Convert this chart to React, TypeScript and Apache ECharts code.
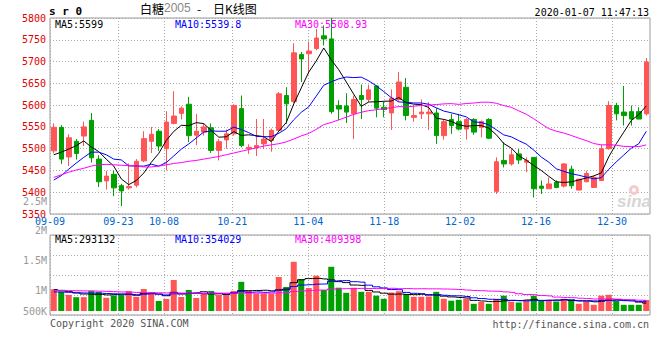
import React, { useEffect, useRef } from "react";
import * as echarts from "echarts";

// ---------- data ----------
const dates = [
  "09-09","09-10","09-11","09-12","09-16","09-17","09-18","09-19","09-20","09-23","09-24","09-25","09-26","09-27","09-30",
  "10-08","10-09","10-10","10-11","10-14","10-15","10-16","10-17","10-18","10-21","10-22","10-23","10-24","10-25","10-28","10-29","10-30","10-31",
  "11-01","11-04","11-05","11-06","11-07","11-08","11-11","11-12","11-13","11-14","11-15","11-18","11-19","11-20","11-21","11-22","11-25","11-26","11-27","11-28","11-29",
  "12-02","12-03","12-04","12-05","12-06","12-09","12-10","12-11","12-12","12-13","12-16","12-17","12-18","12-19","12-20","12-23","12-24","12-25","12-26","12-27","12-30","12-31",
  "01-02","01-03","01-06","01-07",
];

const opens = [
  5495,5549,5481,5517,5529,5565,5476,5426,5441,5415,5410,5416,5472,5517,5540,5500,5558,5581,5602,5531,
  5538,5548,5496,5520,5534,5592,5500,5502,5511,5519,5542,5622,5608,5716,5718,5730,5759,5752,5599,5598,
  5580,5622,5613,5644,5595,5582,5613,5641,5572,5580,5580,5582,5530,5567,5562,5545,5567,5549,5567,5402,
  5473,5465,5488,5469,5480,5414,5408,5423,5414,5453,5405,5424,5411,5427,5500,5599,5584,5585,5585,5580,
];
const closes = [
  5549,5476,5525,5489,5550,5479,5424,5437,5410,5403,5413,5471,5523,5533,5506,5561,5575,5593,5530,5540,
  5550,5496,5516,5534,5599,5507,5503,5507,5522,5542,5626,5603,5720,5706,5724,5754,5752,5585,5591,5584,
  5613,5613,5635,5593,5590,5616,5653,5576,5576,5584,5584,5530,5562,5553,5545,5567,5538,5562,5524,5470,
  5465,5486,5474,5473,5408,5409,5419,5411,5465,5415,5430,5443,5434,5500,5599,5580,5576,5568,5568,5699,
];
const lows = [
  5489,5465,5460,5475,5506,5468,5412,5406,5391,5368,5406,5411,5469,5490,5495,5450,5556,5567,5515,5508,
  5530,5490,5473,5500,5530,5503,5488,5483,5500,5493,5538,5557,5605,5653,5672,5726,5737,5580,5565,5559,
  5522,5568,5607,5572,5572,5543,5608,5565,5562,5568,5543,5511,5521,5534,5542,5521,5532,5526,5522,5396,
  5457,5461,5465,5446,5388,5396,5408,5409,5411,5408,5404,5423,5411,5427,5498,5565,5553,5553,5568,5576,
];
const highs = [
  5558,5554,5533,5522,5562,5582,5485,5449,5450,5419,5466,5476,5540,5550,5545,5586,5632,5597,5619,5580,
  5558,5558,5522,5544,5602,5622,5510,5568,5568,5546,5630,5641,5742,5722,5746,5775,5783,5800,5611,5627,
  5622,5647,5647,5645,5608,5636,5676,5662,5599,5613,5607,5593,5568,5580,5580,5570,5570,5565,5570,5480,
  5515,5499,5499,5480,5480,5427,5434,5427,5467,5461,5430,5449,5438,5509,5609,5605,5644,5599,5595,5708,
];
const volumes = [
  831000,747000,620000,529000,529000,777000,735000,506000,594000,613000,766000,544000,843000,697000,383000,460000,1187000,536000,804000,498000,
  659000,766000,624000,624000,766000,1118000,766000,659000,659000,659000,1302000,919000,1884000,1218000,881000,1352000,804000,1693000,892000,697000,
  889000,735000,735000,586000,467000,709000,758000,651000,544000,544000,555000,735000,467000,394000,429000,471000,276000,345000,276000,467000,
  586000,356000,326000,383000,586000,383000,383000,364000,467000,429000,276000,356000,237000,586000,620000,383000,237000,237000,237000,421000,
];

// moving-average values at the left edge (their windows begin before the first visible day)
const priceMa5Head = [5486, 5492, 5499, 5507];
const priceMa10Head = [5428, 5438, 5453, 5467, 5480, 5492, 5492, 5486, 5476];
const priceMa30Head = [
  5434,5440,5446,5451,5455,5460,5463,5464,5463,5462,5461,5460,5458,5458,5460,
  5463,5466,5468,5471,5473,5476,5479,5482,5486,5490,5494,5498,5502,5506,
];
const volMa5Head = [820000, 790000, 740000, 690000];
const volMa10Head = [730000, 725000, 715000, 700000, 690000, 685000, 680000, 670000, 660000];
const volMa30Head = [
  790000,785000,780000,775000,770000,765000,760000,750000,740000,730000,720000,712000,705000,700000,695000,
  690000,690000,688000,686000,685000,684000,684000,683000,683000,683000,683000,683000,683000,683000,
];

const labelDates = ["09-09", "09-23", "10-08", "10-21", "11-04", "11-18", "12-02", "12-16", "12-30"];
const priceMaLabels = ["MA5:5599", "MA10:5539.8", "MA30:5508.93"];
const volMaLabels = ["MA5:293132", "MA10:354029", "MA30:409398"];
const volumeAxisLabels = ["2.5M", "2M", "1.5M", "1M", "500K"];
const titleParts = ["白糖", "2005", "-", "日K线图"];
const symbolText = "s r 0";
const timeText = "2020-01-07 11:47:13";
const copyrightText = "Copyright 2020 SINA.COM";
const urlText = "http://finance.sina.com.cn";

// ---------- helpers ----------
function movingAverage(values: number[], n: number, head: number[]): number[] {
  return values.map((_, i) => {
    if (i < n - 1) return head[i];
    let s = 0;
    for (let k = i - n + 1; k <= i; k++) s += values[k];
    return Math.round((s / n) * 100) / 100;
  });
}

const RED = "#FF5555";
const GREEN = "#00A000";
const MONO = "DejaVu Sans Mono";
const GRID_LINE = { color: "#aaaaaa", type: [1, 2] as any, width: 1 };

export default function App() {
  const ref = useRef<HTMLDivElement>(null);

  useEffect(() => {
    if (!ref.current) return;
    const chart = echarts.init(ref.current, undefined, { renderer: "svg" });

    const labelIdx = labelDates.map((d) => dates.indexOf(d));
    const showIdx = (i: number) => labelIdx.indexOf(i) >= 0;

    const kData = dates.map((_, i) => [opens[i], closes[i], lows[i], highs[i]]);
    const volData = volumes.map((v, i) => ({
      value: v,
      itemStyle: { color: closes[i] >= opens[i] ? RED : GREEN },
    }));

    const pxPerVol = 38300; // volume per pixel in the lower pane
    const volMin = -4 * pxPerVol;
    const volMax = 76 * pxPerVol;

    const maColors = ["#000000", "#0000FF", "#FF00FF"];
    const priceMas = [
      movingAverage(closes, 5, priceMa5Head),
      movingAverage(closes, 10, priceMa10Head),
      movingAverage(closes, 30, priceMa30Head),
    ];
    const volMas = [
      movingAverage(volumes, 5, volMa5Head),
      movingAverage(volumes, 10, volMa10Head),
      movingAverage(volumes, 30, volMa30Head),
    ];

    const maLabelX = [55, 175, 295];
    const volLabelY = [201, 230, 260, 290, 311];

    const txt = (
      text: string,
      x: number,
      y: number,
      fill: string,
      extra: any = {}
    ) => ({
      type: "text",
      x,
      y,
      silent: true,
      z: 100,
      style: {
        text,
        fill,
        fontFamily: MONO,
        fontSize: 10,
        lineHeight: 9,
        verticalAlign: "middle",
        align: "left",
        ...extra,
      },
    });

    const graphics: any[] = [
      txt(symbolText, 49, 11, "#000", { fontSize: 11, fontWeight: "bold", lineHeight: 11 }),
      txt(titleParts[0], 140, 8, "#000", { fontFamily: "Noto Sans CJK SC", fontSize: 12, lineHeight: 12 }),
      txt(titleParts[1], 164, 8, "#888", { fontFamily: "Liberation Sans", fontSize: 12, lineHeight: 12 }),
      txt(titleParts[2], 197, 8, "#000", { fontFamily: "Noto Sans CJK SC", fontSize: 12, lineHeight: 12 }),
      txt(titleParts[3], 213, 8, "#000", { fontFamily: "Noto Sans CJK SC", fontSize: 12, lineHeight: 12 }),
      txt(timeText, 649, 12, "#000", { align: "right" }),
      ...priceMaLabels.map((t, k) => txt(t, maLabelX[k], 24, maColors[k])),
      ...volMaLabels.map((t, k) => txt(t, maLabelX[k], 239, maColors[k])),
      ...volumeAxisLabels.map((t, k) => txt(t, 47, volLabelY[k], "#999", { align: "right" })),
      txt(copyrightText, 50, 323, "#555"),
      txt(urlText, 649, 324, "#555", { align: "right" }),
      {
        type: "ring",
        silent: true,
        z: 1,
        shape: { cx: 634, cy: 190, r: 5, r0: 2 },
        style: { fill: "#f4caca" },
      },
      txt("sina", 617, 201, "#d6d6d6", {
        fontFamily: "Liberation Sans",
        fontSize: 17,
        lineHeight: 17,
        fontStyle: "italic",
        fontWeight: "bold",
      }),
    ];

    const option: any = {
      animation: false,
      backgroundColor: "#ffffff",
      grid: [
        { left: 50, right: 10, top: 18, height: 196, show: true, borderColor: "#999", borderWidth: 1 },
        { left: 50, right: 10, top: 235, height: 80, show: true, borderColor: "#999", borderWidth: 1 },
      ],
      xAxis: [
        { type: "category", gridIndex: 0, data: dates, boundaryGap: true, show: false },
        {
          type: "category",
          gridIndex: 0,
          data: dates,
          boundaryGap: false,
          position: "bottom",
          axisLine: { show: false },
          axisTick: { show: false },
          axisLabel: {
            interval: (i: number) => showIdx(i),
            color: "#0066CC",
            fontFamily: MONO,
            fontSize: 10,
            lineHeight: 9,
            margin: 3,
          },
          splitLine: { show: true, interval: (i: number) => showIdx(i), lineStyle: GRID_LINE },
        },
        { type: "category", gridIndex: 1, data: dates, boundaryGap: true, show: false },
        {
          type: "category",
          gridIndex: 1,
          data: dates,
          boundaryGap: false,
          position: "bottom",
          axisLine: { show: false },
          axisTick: { show: false },
          axisLabel: { show: false, interval: (i: number) => showIdx(i) },
          splitLine: { show: true, interval: (i: number) => showIdx(i), lineStyle: GRID_LINE },
        },
      ],
      yAxis: [
        {
          type: "value",
          gridIndex: 0,
          min: 5350,
          max: 5800,
          interval: 50,
          axisLine: { show: false },
          axisTick: { show: false },
          axisLabel: {
            color: "#E00000",
            fontFamily: MONO,
            fontSize: 10,
            lineHeight: 9,
            margin: 4,
            formatter: (v: number) => String(v),
          },
          splitLine: { show: true, lineStyle: GRID_LINE },
        },
        { type: "value", gridIndex: 1, min: volMin, max: volMax, show: false },
        {
          type: "value",
          gridIndex: 1,
          min: 0,
          max: 4,
          interval: 1,
          position: "left",
          axisLine: { show: false },
          axisTick: { show: false },
          axisLabel: { show: false },
          splitLine: { show: true, lineStyle: GRID_LINE },
        },
      ],
      series: [
        {
          type: "candlestick",
          xAxisIndex: 0,
          yAxisIndex: 0,
          data: kData,
          barWidth: 5,
          itemStyle: {
            color: RED,
            color0: GREEN,
            borderColor: RED,
            borderColor0: GREEN,
            borderWidth: 1,
          },
        },
        ...priceMas.map((d, k) => ({
          type: "line",
          xAxisIndex: 0,
          yAxisIndex: 0,
          data: d,
          symbol: "none",
          showSymbol: false,
          lineStyle: { color: maColors[k], width: 1 },
          z: 5,
        })),
        {
          type: "bar",
          xAxisIndex: 2,
          yAxisIndex: 1,
          data: volData,
          barWidth: 6,
        },
        ...volMas.map((d, k) => ({
          type: "line",
          xAxisIndex: 2,
          yAxisIndex: 1,
          data: d,
          step: "middle",
          symbol: "none",
          showSymbol: false,
          lineStyle: { color: maColors[k], width: 1 },
          z: 5,
        })),
      ],
      graphic: graphics,
    };

    chart.setOption(option);
    return () => chart.dispose();
  }, []);

  return (
    <div
      ref={ref}
      style={{ position: "fixed", left: 0, top: 0, width: 660, height: 360, background: "#fff" }}
    />
  );
}
